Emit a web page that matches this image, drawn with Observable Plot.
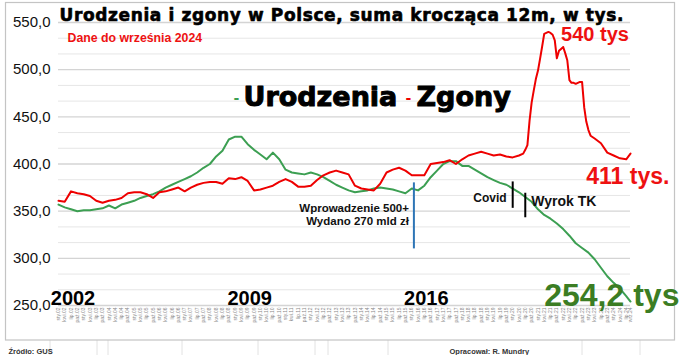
<!DOCTYPE html>
<html><head><meta charset="utf-8">
<script src="https://cdn.jsdelivr.net/npm/d3@7"></script>
<script src="https://cdn.jsdelivr.net/npm/@observablehq/plot@0.6"></script>
<style>body{margin:0;background:#fff;} svg{display:block;}</style>
</head><body><div id="chart"></div>
<script>
// ---- data ----
const birthDates = [
 "2002-01","2002-04","2002-07","2002-10","2003-01","2003-04","2003-07","2003-10",
 "2004-01","2004-04","2004-07","2004-10","2005-01","2005-04","2005-07","2005-10",
 "2006-01","2006-04","2006-07","2006-10","2007-01","2007-04","2007-07","2007-10",
 "2008-01","2008-04","2008-07","2008-10","2009-01","2009-04","2009-07","2009-10",
 "2010-01","2010-04","2010-07","2010-10","2011-01","2011-04","2011-07","2011-10",
 "2012-01","2012-04","2012-07","2012-10","2013-01","2013-04","2013-07","2013-10",
 "2014-01","2014-04","2014-07","2014-10","2015-01","2015-04","2015-07","2015-10",
 "2016-01","2016-04","2016-07","2016-10","2017-01","2017-04","2017-07","2017-10",
 "2018-01","2018-04","2018-07","2018-10","2019-01","2019-04","2019-07","2019-10",
 "2020-01","2020-04","2020-07","2020-10","2021-01","2021-04","2021-07","2021-10",
 "2022-01","2022-04","2022-07","2022-10","2023-01","2023-04","2023-07","2023-10",
 "2024-01","2024-04","2024-07","2024-09"];
const births = [
 357,354,352,350, 351,351,352,353, 356,353,357,359, 361,364,366,368,
 371,375,378,381, 384,387,391,396, 400,408,414,426, 429,429,421,415,
 410,405,412,405, 394,391,390,389, 391,389,386,382, 378,375,372,370,
 371,372,374,375, 374,373,371,369, 374,372,377,386, 393,400,403,403,
 398,398,394,390, 386,383,380,378, 374,370,365,360, 352,346,342,337,
 331,324,316,311, 306,299,290,281, 274,268,260,254.2];

const deathDates = [
 "2002-01","2002-04","2002-07","2002-10","2003-01","2003-04","2003-07","2003-10",
 "2004-01","2004-04","2004-07","2004-10","2005-01","2005-04","2005-07","2005-10",
 "2006-01","2006-04","2006-07","2006-10","2007-01","2007-04","2007-07","2007-10",
 "2008-01","2008-04","2008-07","2008-10","2009-01","2009-04","2009-07","2009-10",
 "2010-01","2010-04","2010-07","2010-10","2011-01","2011-04","2011-07","2011-10",
 "2012-01","2012-04","2012-07","2012-10","2013-01","2013-04","2013-07","2013-10",
 "2014-01","2014-04","2014-07","2014-10","2015-01","2015-04","2015-07","2015-10",
 "2016-01","2016-04","2016-07","2016-10","2017-01","2017-04","2017-07","2017-10",
 "2018-01","2018-04","2018-07","2018-10","2019-01","2019-04","2019-07","2019-10",
 "2020-01","2020-04","2020-06","2020-07","2020-08","2020-09","2020-10","2020-11","2020-12",
 "2021-01","2021-02","2021-03","2021-04","2021-05","2021-06","2021-07","2021-08","2021-09","2021-10","2021-11","2021-12",
 "2022-01","2022-02","2022-03","2022-04","2022-05","2022-06","2022-07","2022-08","2022-09","2022-10","2022-11","2022-12",
 "2023-01","2023-02","2023-04","2023-07","2023-10",
 "2024-01","2024-04","2024-07","2024-09"];
const deaths = [
 361,360,371,369, 368,366,361,359, 361,362,364,369, 370,370,368,364,
 370,371,373,375, 371,375,378,380, 381,381,379,385, 384,386,382,372,
 373,375,377,381, 384,381,376,376, 377,383,388,391, 393,391,389,377,
 374,373,372,379, 391,394,396,393, 388,388,388,400, 401,402,404,400,
 405,409,411,413, 411,409,410,408,
 407,409,411,415,420,446,465,478,490,
 499,512,524,538,539,540,539,537,531,512,520,522,
 524,517,510,489,486,486,485,486,487,487,460,445,
 436,430,427,422,412,
 409,406,405,411];

const monthAbbr = ["sty","lut","mar","kwi","maj","cze","lip","sie","wrz","paź","lis","gru"];
const yTicks = [250, 300, 350, 400, 450, 500, 550];
const yMinor = [266.67, 283.33, 316.67, 333.33, 366.67, 383.33, 416.67, 433.33, 466.67, 483.33, 516.67, 533.33];
const yearLabels = ["2002", "2009", "2016"];
const yearLabelDates = ["2002-07", "2009-07", "2016-07"];

const titleText = "Urodzenia i zgony w Polsce, suma krocząca 12m, w tys.";
const subtitleText = "Dane do września 2024";
const seriesNames = ["Urodzenia", "Zgony"];
const seriesColors = ["#3c9f52", "#ee0000"];

// ---- build ----
const parse = d3.utcParse("%Y-%m");
const birthRows = birthDates.map((d, i) => ({date: parse(d), value: births[i]}));
const deathRows = deathDates.map((d, i) => ({date: parse(d), value: deaths[i]}));
const fmtTick = d => monthAbbr[d.getUTCMonth()] + "." + String(d.getUTCFullYear()).slice(2);
const yearRows = yearLabels.map((t, i) => ({text: t, date: parse(yearLabelDates[i])}));

const bold = {fontWeight: "bold"};
const heavy = {fontWeight: "bold", fontFamily: "'DejaVu Sans', Verdana, sans-serif", stroke: "#000", strokeWidth: 0.6};
const chart = Plot.plot({
  width: 680, height: 355,
  marginTop: 22, marginBottom: 50, marginLeft: 58, marginRight: 50,
  style: {fontFamily: "'Liberation Sans', Arial, sans-serif", background: "#fff", overflow: "visible"},
  x: {type: "utc", domain: [parse(birthDates[0]), parse(birthDates[birthDates.length - 1])]},
  y: {domain: [250, 550]},
  marks: [
    Plot.ruleY(yMinor, {stroke: "#e6e6e6", strokeWidth: 1}),
    Plot.ruleY(yTicks, {stroke: "#d4d4d4", strokeWidth: 1.3}),
    Plot.axisY({ticks: yTicks, tickFormat: d => d.toFixed(1).replace(".", ","), tickSize: 0, tickPadding: 8, fontSize: 15, fill: "#111", stroke: "#111", strokeWidth: 0.25, label: null}),
    Plot.axisX({ticks: birthRows.map(d => d.date), tickFormat: fmtTick, tickRotate: -90, tickSize: 0, tickPadding: 2, fontSize: 5, fill: "#888", label: null}),
    Plot.lineY(birthRows, {x: "date", y: "value", stroke: seriesColors[0], strokeWidth: 2}),
    Plot.lineY(deathRows, {x: "date", y: "value", stroke: seriesColors[1], strokeWidth: 2}),
    // annotation rules
    Plot.ruleX([parse("2016-02")], {y1: 310, y2: 380, stroke: "#2e75b6", strokeWidth: 2}),
    Plot.ruleX([parse("2020-01")], {y1: 353, y2: 381, stroke: "#000", strokeWidth: 2}),
    Plot.ruleX([parse("2020-07")], {y1: 343, y2: 369, stroke: "#000", strokeWidth: 2}),
    // annotation texts
    Plot.text(["Wprowadzenie 500+\nWydano 270 mld zł"], {x: parse("2016-02"), y: 335, dx: -5, text: d => d, textAnchor: "end", lineAnchor: "bottom", lineHeight: 1.2, fontSize: 11.5, fill: "#111", ...bold}),
    Plot.text(["Covid"], {x: parse("2020-01"), y: 360, dx: -6, text: d => d, textAnchor: "end", lineAnchor: "bottom", fontSize: 12, fill: "#111", ...bold}),
    Plot.text(["Wyrok TK"], {x: parse("2020-07"), y: 356, dx: 6, text: d => d, textAnchor: "start", lineAnchor: "bottom", fontSize: 14, fill: "#111", ...bold}),
    Plot.text(["540 tys"], {x: parse("2021-12"), y: 530, text: d => d, textAnchor: "start", lineAnchor: "bottom", fontSize: 20, fill: "#ee1111", ...bold}),
    Plot.text(["411 tys."], {x: parse("2022-12"), y: 378.3, text: d => d, textAnchor: "start", lineAnchor: "bottom", fontSize: 23, fill: "#ee1111", ...bold}),
    Plot.text(["254,2 tys"], {x: parse("2021-04"), y: 250, text: d => d, textAnchor: "start", lineAnchor: "bottom", fontSize: 32, fill: "#3b7d23", ...bold}),
    Plot.text(yearRows, {x: "date", text: "text", frameAnchor: "bottom", dx: 2, dy: -1, textAnchor: "middle", lineAnchor: "bottom", fontSize: 20, fill: "#000", ...bold}),
    // title, subtitle, legend
    Plot.text([titleText], {text: d => d, frameAnchor: "top-left", dx: 1, dy: -2, textAnchor: "start", lineAnchor: "bottom", fontSize: 17, fill: "#000", ...heavy}),
    Plot.text([subtitleText], {text: d => d, frameAnchor: "top-left", dx: 9, dy: 19, textAnchor: "start", lineAnchor: "bottom", fontSize: 12.3, fill: "#ee1111", ...bold}),
    Plot.text(["-"], {text: d => d, frameAnchor: "top-left", dx: 175, dy: 80, textAnchor: "start", lineAnchor: "bottom", fontSize: 14, fill: seriesColors[0], fontFamily: "'DejaVu Sans', sans-serif", ...bold}),
    Plot.text([seriesNames[0]], {text: d => d, frameAnchor: "top-left", dx: 185, dy: 83, textAnchor: "start", lineAnchor: "bottom", fontSize: 27, fill: "#000", ...heavy, strokeWidth: 1}),
    Plot.text(["-"], {text: d => d, frameAnchor: "top-left", dx: 347, dy: 80, textAnchor: "start", lineAnchor: "bottom", fontSize: 14, fill: seriesColors[1], fontFamily: "'DejaVu Sans', sans-serif", ...bold}),
    Plot.text([seriesNames[1]], {text: d => d, frameAnchor: "top-left", dx: 358, dy: 83, textAnchor: "start", lineAnchor: "bottom", fontSize: 27, fill: "#000", ...heavy, strokeWidth: 1}),
    // footer
    Plot.text(["Źródło: GUS"], {text: d => d, frameAnchor: "bottom-left", dx: -50, dy: 48, textAnchor: "start", lineAnchor: "bottom", fontSize: 7.5, fill: "#333", ...bold}),
    Plot.text(["Opracował: R. Mundry"], {text: d => d, frameAnchor: "bottom-left", dx: 391, dy: 48, textAnchor: "start", lineAnchor: "bottom", fontSize: 7.5, fill: "#333", ...bold})
  ]
});

const svg = d3.select(chart);
// stretch the title to the reference's width
svg.selectAll("text").filter(function () { return this.textContent === titleText; })
  .attr("textLength", 564).attr("lengthAdjust", "spacing");
// chart-area border (spreadsheet chart frame) and cell lines below it
const deco = svg.insert("g", ":first-child");
[50, 97, 108, 182, 258, 315, 328, 388, 582, 640].forEach(x =>
  deco.append("line").attr("x1", x).attr("x2", x).attr("y1", 340).attr("y2", 355).attr("stroke", "#e2e2e2"));
deco.append("rect").attr("x", 5.5).attr("y", 2.5).attr("width", 669).attr("height", 337.5)
  .attr("fill", "none").attr("stroke", "#c4c4c4").attr("stroke-width", 1.2);
document.getElementById("chart").append(chart);
</script>
</body></html>
